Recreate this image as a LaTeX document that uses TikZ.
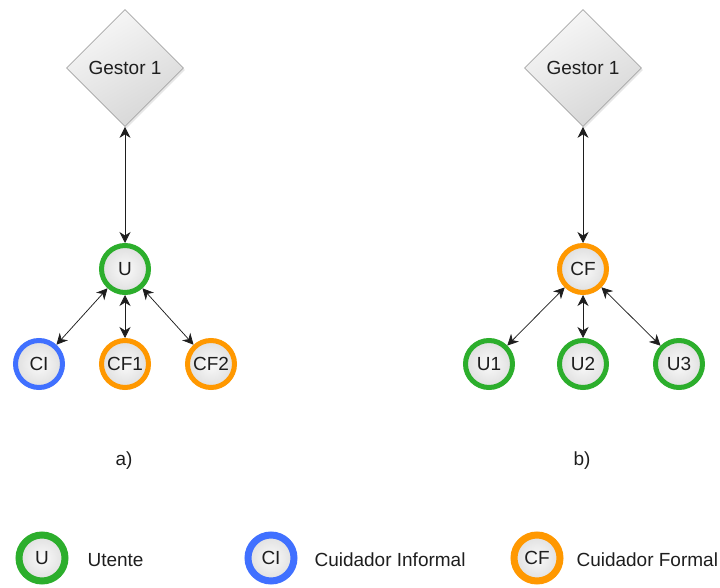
\documentclass[tikz,border=0pt]{standalone}
\usepackage{fontspec}
\setmainfont{Liberation Sans}
\usetikzlibrary{shapes.geometric,arrows.meta,shadows}
\definecolor{ugreen}{RGB}{44,174,44}
\definecolor{cblue}{RGB}{64,112,255}
\definecolor{forange}{RGB}{255,152,0}
\definecolor{ink}{RGB}{30,30,30}
\tikzset{
  txt/.style={font=\fontsize{19}{22}\selectfont, text=ink},
  role/.style={circle, minimum size=47pt, inner sep=0pt, line width=5pt,
    inner color=gray!4, outer color=gray!25,
    drop shadow={opacity=0.25, shadow xshift=1.5pt, shadow yshift=-2pt}, txt},
  legrole/.style={role, minimum size=46pt, line width=7pt},
  manager/.style={diamond, minimum width=117pt, minimum height=117pt, inner sep=0pt,
    draw=gray!70, line width=0.7pt, top color=gray!6, bottom color=gray!32, shading angle=30,
    drop shadow={opacity=0.2, shadow xshift=1.5pt, shadow yshift=-2pt}, txt},
  link/.style={{Stealth[length=11pt,width=11pt,inset=3.5pt]}-{Stealth[length=11pt,width=11pt,inset=3.5pt]},
    line width=0.75pt, draw=ink},
  legtext/.style={anchor=west, txt}
}
\begin{document}
\begin{tikzpicture}[x=1pt,y=-1pt]
\useasboundingbox (0,0) rectangle (720,588);
% a)
\node[manager] (g1) at (125,68) {Gestor 1};
\node[role, draw=ugreen] (u) at (125,269) {U};
\node[role, draw=cblue] (ci) at (39,364) {CI};
\node[role, draw=forange] (cf1) at (125,364) {CF1};
\node[role, draw=forange] (cf2) at (211,364) {CF2};
\draw[link] (g1) -- (u);
\draw[link] (u) -- (ci);
\draw[link] (u) -- (cf1);
\draw[link] (u) -- (cf2);
\node[txt] (la) at (124,461) {a)};
% b)
\node[manager] (g2) at (583,68) {Gestor 1};
\node[role, draw=forange] (cf) at (583,269) {CF};
\node[role, draw=ugreen] (u1) at (489,364) {U1};
\node[role, draw=ugreen] (u2) at (583,364) {U2};
\node[role, draw=ugreen] (u3) at (679,364) {U3};
\draw[link] (g2) -- (cf);
\draw[link] (cf) -- (u1);
\draw[link] (cf) -- (u2);
\draw[link] (cf) -- (u3);
\node[txt] (lb) at (582,461) {b)};
% legend
\node[legrole, draw=ugreen] (lu) at (42,558) {U};
\node[legtext] (tu) at (84,560) {Utente};
\node[legrole, draw=cblue] (lci) at (271,558) {CI};
\node[legtext] (tci) at (311,560) {Cuidador Informal};
\node[legrole, draw=forange] (lcf) at (537,558) {CF};
\node[legtext] (tcf) at (573,560) {Cuidador Formal};
\end{tikzpicture}
\end{document}
